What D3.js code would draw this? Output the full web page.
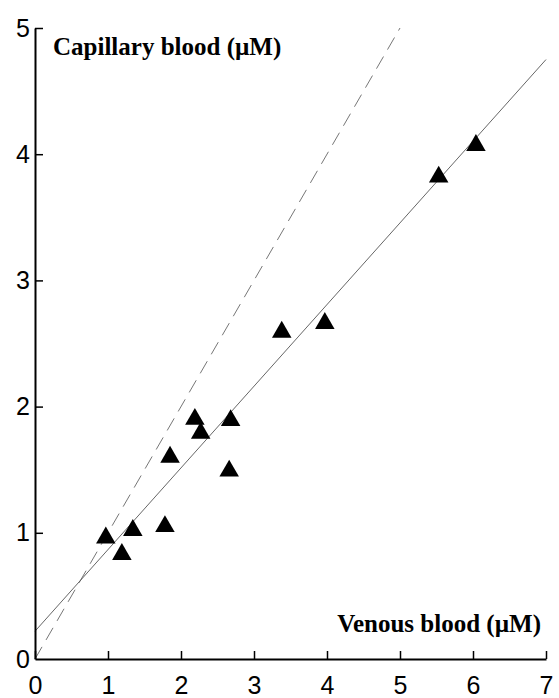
<!DOCTYPE html>
<html>
<head>
<meta charset="utf-8">
<script src="https://cdn.jsdelivr.net/npm/d3@7"></script>
<style>
  body { margin: 0; background: #fff; }
  .tick text { font-family: "Liberation Sans", Arial, sans-serif; font-size: 25px; fill: #000; }
  .title { font-family: "Liberation Serif", "Times New Roman", serif; font-weight: bold; font-size: 25px; }
</style>
</head>
<body>
<svg id="graph"></svg>
<script>
// venous (x) vs capillary (y), µM
const venous = [0.97, 1.19, 1.34, 1.78, 1.85, 2.19, 2.27, 2.68, 2.66, 3.38, 3.97, 5.53, 6.04];
const capillary = [0.96, 0.83, 1.02, 1.05, 1.60, 1.90, 1.79, 1.89, 1.49, 2.59, 2.66, 3.82, 4.07];

// fitted line and identity line
const fitX = [0, 7];
const fitY = [0.22, 4.75];
const identX = [0, 5];
const identY = [0, 5];

const xTicks = [0, 1, 2, 3, 4, 5, 6, 7];
const yTicks = [0, 1, 2, 3, 4, 5];

var svgWidth = 559;
var svgHeight = 698;
var svg = d3.select('#graph')
    .attr('width', svgWidth)
    .attr('height', svgHeight);

var x = d3.scaleLinear().domain([0, 7]).range([35, 546]);
var y = d3.scaleLinear().domain([0, 5]).range([659, 28]);

var line = d3.line().x(d => x(d[0])).y(d => y(d[1]));

svg.append('path')
    .datum(d3.zip(identX, identY))
    .attr('d', line)
    .attr('fill', 'none')
    .attr('stroke', '#666')
    .attr('stroke-width', 0.9)
    .attr('stroke-dasharray', '14,8');

svg.append('path')
    .datum(d3.zip(fitX, fitY))
    .attr('d', line)
    .attr('fill', 'none')
    .attr('stroke', '#555')
    .attr('stroke-width', 0.9);

svg.selectAll('path.pt')
    .data(d3.zip(venous, capillary))
    .enter()
    .append('path')
    .attr('class', 'pt')
    .attr('d', d3.symbol(d3.symbolTriangle, 165))
    .attr('transform', d => 'translate(' + x(d[0]) + ',' + y(d[1]) + ')')
    .attr('fill', '#000');

var xAxis = svg.append('g')
    .attr('transform', 'translate(0,' + y(0) + ')')
    .call(d3.axisBottom(x).tickValues(xTicks).tickFormat(d3.format('d')).tickSize(-8).tickSizeOuter(0).tickPadding(17));

var yAxis = svg.append('g')
    .attr('transform', 'translate(' + x(0) + ',0)')
    .call(d3.axisLeft(y).tickValues(yTicks).tickFormat(d3.format('d')).tickSize(-8).tickSizeOuter(0).tickPadding(5));

svg.selectAll('.domain').attr('stroke', '#000').attr('stroke-width', 2);
svg.selectAll('.tick line').attr('stroke', '#000').attr('stroke-width', 1.5);
yAxis.selectAll('.tick').filter(d => d === 0).select('line').remove();

svg.append('text')
    .attr('class', 'title')
    .attr('x', 53)
    .attr('y', 55)
    .text('Capillary blood (µM)');

svg.append('text')
    .attr('class', 'title')
    .attr('x', 541)
    .attr('y', 632)
    .attr('text-anchor', 'end')
    .text('Venous blood (µM)');
</script>
</body>
</html>
